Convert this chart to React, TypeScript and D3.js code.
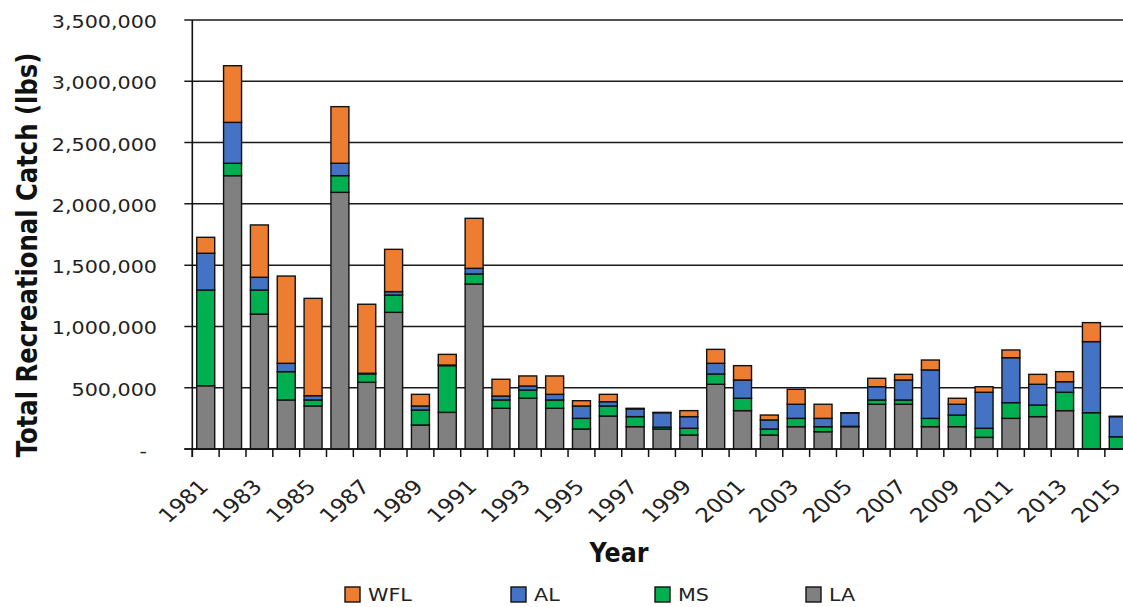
import React from "react";
import * as d3 from "d3";

const years = [
  "1981", "1982", "1983", "1984", "1985", "1986", "1987", "1988", "1989", "1990",
  "1991", "1992", "1993", "1994", "1995", "1996", "1997", "1998", "1999", "2000",
  "2001", "2002", "2003", "2004", "2005", "2006", "2007", "2008", "2009", "2010",
  "2011", "2012", "2013", "2014", "2015",
];

const LA = [
  516000, 2230000, 1101000, 400000, 351000, 2094000, 544000, 1115000, 196000, 299000,
  1346000, 332000, 414000, 332000, 163000, 269000, 182000, 163000, 114000, 528000,
  313000, 114000, 182000, 141000, 182000, 365000, 365000, 182000, 182000, 95000,
  250000, 264000, 313000, 0, 0,
];
const MS = [
  781000, 101000, 196000, 231000, 49000, 136000, 69000, 141000, 122000, 381000,
  82000, 68000, 67000, 68000, 87000, 82000, 82000, 15000, 55000, 84000,
  101000, 49000, 68000, 41000, 3000, 35000, 35000, 68000, 95000, 74000,
  128000, 95000, 150000, 296000, 100000,
];
const AL = [
  300000, 334000, 104000, 68000, 35000, 101000, 5000, 28000, 33000, 5000,
  46000, 32000, 33000, 46000, 101000, 35000, 63000, 118000, 95000, 87000,
  149000, 74000, 115000, 68000, 108000, 108000, 163000, 395000, 88000, 294000,
  367000, 169000, 86000, 580000, 164000,
];
const WFL = [
  130000, 462000, 427000, 712000, 794000, 462000, 563000, 345000, 95000, 87000,
  408000, 137000, 82000, 150000, 43000, 60000, 5000, 3000, 49000, 114000,
  117000, 40000, 122000, 115000, 3000, 69000, 46000, 81000, 49000, 45000,
  63000, 81000, 82000, 155000, 3000,
];

const yTicks = [0, 500000, 1000000, 1500000, 2000000, 2500000, 3000000, 3500000];
const seriesKeys = ["LA", "MS", "AL", "WFL"];
const legendKeys = ["WFL", "AL", "MS", "LA"];
const colors: Record<string, string> = {
  LA: "#808080",
  MS: "#00B050",
  AL: "#4472C4",
  WFL: "#ED7D31",
};

const FONT = "'DejaVu Sans', Verdana, sans-serif";
const SX = 1.15;

export default function App() {
  const W = 1123;
  const H = 607;
  const plotLeft = 192.3;
  const step = 26.84;
  const plotBottom = 449;
  const plotTop = 20;

  const x = d3
    .scaleBand<string>()
    .domain(years)
    .range([plotLeft, plotLeft + step * years.length])
    .paddingInner(0.33)
    .paddingOuter(0.165);
  const y = d3.scaleLinear().domain([0, 3500000]).range([plotBottom, plotTop]);

  const rows = years.map((yr, i) => ({
    year: yr,
    LA: LA[i],
    MS: MS[i],
    AL: AL[i],
    WFL: WFL[i],
  }));
  const stacked = d3.stack<any>().keys(seriesKeys)(rows);
  const fmt = d3.format(",");

  const boundaries = d3.range(years.length + 1).map((i) => plotLeft + i * x.step());
  const labelYears = years.filter((_, i) => i % 2 === 0);
  const legendX = [345, 511, 655, 806];

  return (
    <svg
      width={W}
      height={H}
      style={{ position: "absolute", left: 0, top: 0, background: "#fff" }}
      fontFamily={FONT}
    >
      <rect x={0} y={0} width={W} height={H} fill="#fff" />
      {/* gridlines */}
      {yTicks.map((t) => (
        <line
          key={"g" + t}
          x1={plotLeft - 8}
          x2={W}
          y1={y(t)}
          y2={y(t)}
          stroke="#1a1a1a"
          strokeWidth={1.5}
        />
      ))}
      {/* bars */}
      {stacked.map((layer) => (
        <g key={layer.key} fill={colors[layer.key]}>
          {layer.map((d, i) => {
            const h = y(d[0]) - y(d[1]);
            if (h <= 0) return null;
            return (
              <rect
                key={i}
                x={x(years[i])}
                y={y(d[1])}
                width={x.bandwidth()}
                height={h}
                stroke="#111"
                strokeWidth={1.4}
              />
            );
          })}
        </g>
      ))}
      {/* axes */}
      <line x1={plotLeft} x2={plotLeft} y1={plotTop} y2={plotBottom + 8} stroke="#111" strokeWidth={1.6} />
      <line x1={plotLeft - 8} x2={W} y1={plotBottom} y2={plotBottom} stroke="#111" strokeWidth={1.6} />
      {boundaries.map((bx, i) => (
        <line key={"t" + i} x1={bx} x2={bx} y1={plotBottom} y2={plotBottom + 8} stroke="#111" strokeWidth={1.5} />
      ))}
      {/* y tick labels */}
      {yTicks.map((t) => (
        <text
          key={"yl" + t}
          transform={`translate(${t === 0 ? 147 : 157},${y(t) + 8}) scale(${SX},1)`}
          textAnchor="end"
          fontSize={18}
          fill="#222"
        >
          {t === 0 ? "-" : fmt(t)}
        </text>
      ))}
      {/* x tick labels */}
      {labelYears.map((yr) => {
        const cx = (x(yr) as number) + x.bandwidth() / 2;
        return (
          <text
            key={"xl" + yr}
            transform={`translate(${cx + 4},488) scale(${SX},1) rotate(-45)`}
            textAnchor="end"
            fontSize={20}
            fill="#222"
          >
            {yr}
          </text>
        );
      })}
      {/* axis titles */}
      <text
        transform={`translate(37,255) scale(1.2,1) rotate(-90)`}
        textAnchor="middle"
        fontSize={24.3}
        fontWeight="bold"
        fill="#111"
      >
        Total Recreational Catch (lbs)
      </text>
      <text
        x={619}
        y={562}
        textAnchor="middle"
        fontSize={26}
        fontWeight="bold"
        fill="#111"
        textLength={59}
        lengthAdjust="spacingAndGlyphs"
      >
        Year
      </text>
      {/* legend */}
      {legendKeys.map((k, i) => (
        <g key={"lg" + k}>
          <rect
            x={legendX[i]}
            y={587}
            width={15}
            height={15}
            fill={colors[k]}
            stroke="#111"
            strokeWidth={1.4}
          />
          <text
            transform={`translate(${legendX[i] + 23},601) scale(${SX},1)`}
            fontSize={18}
            fill="#222"
          >
            {k}
          </text>
        </g>
      ))}
    </svg>
  );
}
